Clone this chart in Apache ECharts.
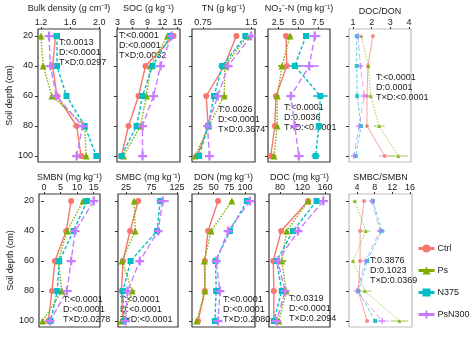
<!DOCTYPE html>
<html><head><meta charset="utf-8">
<script src="https://cdn.jsdelivr.net/npm/echarts@6/dist/echarts.min.js"></script>
<style>html,body{margin:0;padding:0;background:#fff}#c{width:474px;height:339px}</style>
</head><body><div id="c"></div>
<script>
// ---------- data ----------
const depths = [20, 40, 60, 80, 100];
const treatments = ['Ctrl', 'Ps', 'N375', 'PsN300'];

// rows: Ctrl, Ps, N375, PsN300 ; columns: depths
const bulkDensity    = [[1.40,1.36,1.42,1.69,1.75],[1.20,1.23,1.35,1.80,1.82],[1.42,1.42,1.55,1.80,1.96],[1.31,1.33,1.41,1.77,1.69]];
const bulkDensityErr = [[0.02,0.02,0.02,0.05,0.03],[0.02,0.03,0.02,0.02,0.03],[0.02,0.02,0.02,0.02,0.02],[0.04,0.03,0.03,0.03,0.05]];
const soc    = [[14.2,8.6,7.2,5.2,3.8],[13.0,9.6,8.8,7.6,4.2],[13.6,10.0,8.0,6.8,3.8],[13.8,11.6,10.2,8.0,8.0]];
const socErr = [[0.4,0.3,0.3,0.3,0.2],[0.4,0.4,0.4,0.3,0.3],[0.3,0.4,0.4,0.3,0.3],[0.4,0.6,0.6,0.4,0.3]];
const tn    = [[1.27,1.08,0.80,0.83,0.66],[1.44,1.09,1.08,0.84,0.63],[1.41,1.05,0.92,0.83,0.69],[1.50,1.14,0.98,0.82,0.85]];
const tnErr = [[0.02,0.03,0.02,0.02,0.02],[0.03,0.03,0.05,0.03,0.04],[0.03,0.06,0.03,0.03,0.03],[0.03,0.05,0.03,0.03,0.02]];
const no3    = [[3.5,3.6,2.25,2.1,1.6],[4.0,3.0,2.4,2.4,2.0],[6.0,4.6,7.8,7.6,7.2],[7.1,6.4,4.1,4.6,5.1]];
const no3Err = [[0.2,0.3,0.2,0.2,0.2],[0.3,0.5,0.3,0.2,0.3],[0.2,0.8,0.9,0.3,0.5],[0.7,1.2,0.3,0.3,0.6]];
const docDon    = [[2.07,1.80,1.75,1.75,2.70],[1.45,1.82,1.95,2.40,3.43],[1.20,1.20,1.22,1.43,1.15],[1.27,1.40,1.60,1.33,1.05]];
const docDonErr = [[0.05,0.05,0.05,0.05,0.3],[0.05,0.05,0.1,0.3,0.5],[0.05,0.05,0.05,0.1,0.05],[0.05,0.1,0.2,0.1,0.05]];
const smbn    = [[8.2,6.7,3.3,2.4,1.3],[11.8,7.0,4.3,5.4,-0.4],[13.0,8.9,4.6,4.0,2.0],[15.0,9.4,8.2,6.9,1.8]];
const smbnErr = [[0.4,0.4,0.3,0.4,0.3],[0.5,0.5,0.3,0.4,0.3],[0.4,0.4,0.4,0.7,0.3],[0.6,0.6,0.4,1.5,0.4]];
const smbc    = [[49,33,19,16,19],[41,43,17,37,16],[92,86,34,19,21],[97,88,52,28,24]];
const smbcErr = [[3,3,2,2,2],[3,3,2,6,2],[3,3,3,4,2],[12,5,6,4,3]];
const don    = [[57,41,36,36,25],[79,46,35,36,23],[103,76,53,54,52],[108,73,54,60,57]];
const donErr = [[2,3,2,2,2],[3,3,2,2,2],[3,4,3,3,2],[3,3,3,4,3]];
const doc    = [[130,82,68,69,69],[130,92,83,91,78],[145,103,74,83,69],[157,112,76,89,74]];
const docErr = [[3,3,2,2,2],[3,3,8,5,3],[3,4,3,3,2],[8,4,3,3,3]];
const smbcSmbn    = [[5.6,4.7,4.7,4.3,6.3],[3.5,6.0,3.1,5.8,13.6],[7.6,9.6,6.3,4.3,8.1],[7.4,9.2,5.9,4.0,9.7]];
const smbcSmbnErr = [[0.4,0.4,0.4,0.3,0.4],[0.5,1.0,0.4,1.5,2.0],[0.4,0.8,0.4,0.3,0.5],[0.4,0.5,0.4,0.4,1.5]];

// tick labels
const bdTicks = ['1.2','1.6','2.0'];
const socTicks = ['3','6','9','12','15'];
const tnTicks = ['0.75','1.5'];
const no3Ticks = ['2.5','5.0','7.5'];
const docDonTicks = ['1','2','3','4'];
const smbnTicks = ['0','5','10','15'];
const smbcTicks = ['25','75','125'];
const donTicks = ['25','50','75','100'];
const docTicks = ['80','120','160'];
const smbcSmbnTicks = ['4','8','12','16'];
const depthTicks = [20, 40, 60, 80, 100];

const titles = ['Bulk density (g cm\u207B\u00B3)','SOC (g kg\u207B\u00B9)','TN (g kg\u207B\u00B9)','NO\u2083\u207B-N (mg kg\u207B\u00B9)','DOC/DON',
  'SMBN (mg kg\u207B\u00B9)','SMBC (mg kg\u207B\u00B9)','DON (mg kg\u207B\u00B9)','DOC (mg kg\u207B\u00B9)','SMBC/SMBN'];
const stats = [
  ['T:0.0013','D:<0.0001','T\u00D7D:0.0297'],
  ['T:<0.0001','D:<0.0001','T\u00D7D:0.0032'],
  ['T:0.0026','D:<0.0001','T\u00D7D:0.3674'],
  ['T:<0.0001','D:0.0036','T\u00D7D:<0.0001'],
  ['T:<0.0001','D:0.0001','T\u00D7D:<0.0001'],
  ['T:<0.0001','D:<0.0001','T\u00D7D:0.0278'],
  ['T:<0.0001','D:<0.0001','T\u00D7D:<0.0001'],
  ['T:<0.0001','D:<0.0001','T\u00D7D:0.2080'],
  ['T:0.0319','D:<0.0001','T\u00D7D:0.2094'],
  ['T:0.3876','D:0.1023','T\u00D7D:0.0369']
];

// ---------- layout / style ----------
const panels = [
  {vals: bulkDensity, err: bulkDensityErr, ticks: bdTicks, left: 38, top: 29, width: 62, min: 1.159, max: 2.01, stat: [59, 38]},
  {vals: soc, err: socErr, ticks: socTicks, left: 117, top: 29, width: 63, min: 2.9, max: 15.5, stat: [119, 31]},
  {vals: tn, err: tnErr, ticks: tnTicks, left: 192, top: 29, width: 63, min: 0.578, max: 1.56, stat: [218, 105]},
  {vals: no3, err: no3Err, ticks: no3Ticks, left: 268, top: 29, width: 62, min: 1.25, max: 9.0, stat: [284, 103]},
  {vals: docDon, err: docDonErr, ticks: docDonTicks, left: 349, top: 29, width: 62, min: 0.786, max: 4.11, stat: [376, 73], light: true},
  {vals: smbn, err: smbnErr, ticks: smbnTicks, left: 39, top: 194, width: 61, min: -1.5, max: 16.9, stat: [63, 295]},
  {vals: smbc, err: smbcErr, ticks: smbcTicks, left: 118, top: 194, width: 60, min: 9.3, max: 127, stat: [120, 295]},
  {vals: don, err: donErr, ticks: donTicks, left: 192, top: 194, width: 63, min: 15.4, max: 116, stat: [223, 295]},
  {vals: doc, err: docErr, ticks: docTicks, left: 269, top: 194, width: 61, min: 60.4, max: 168.9, stat: [289, 294]},
  {vals: smbcSmbn, err: smbcSmbnErr, ticks: smbcSmbnTicks, left: 349, top: 194, width: 63, min: 2.19, max: 16.45, stat: [370, 256], light: true}
];
const H = 133;
const colors = ['#F8766D', '#7CAE00', '#00BFC4', '#C77CFF'];
const symbols = ['circle', 'triangle', 'rect', 'path://M3,0H5V3H8V5H5V8H3V5H0V3H3Z'];
const dashes = ['solid', [1.5, 1.5], [3.5, 2], [6, 3]];
const FONT = 'Liberation Sans, Arial, sans-serif';
const TXT = '#1a1a1a';

const grid = [], xAxis = [], yAxis = [], series = [], graphic = [];
panels.forEach((p, k) => {
  grid.push({left: p.left, top: p.top, width: p.width, height: H, show: true,
    borderColor: p.light ? '#bdbdbd' : '#3a3a3a', borderWidth: 1.2, backgroundColor: 'transparent'});
  const tv = p.ticks.map(Number);
  xAxis.push({type: 'value', gridIndex: k, position: 'top', min: p.min, max: p.max,
    axisLine: {show: false}, splitLine: {show: false},
    axisTick: {show: true, length: 2, customValues: tv, lineStyle: {color: '#333'}},
    axisLabel: {customValues: tv, margin: 2, fontSize: 9, color: TXT, fontFamily: FONT,
      formatter: v => p.ticks[tv.indexOf(v)] !== undefined ? p.ticks[tv.indexOf(v)] : String(v)}});
  const showY = (k === 0 || k === 5);
  yAxis.push({type: 'value', gridIndex: k, inverse: true, min: 15.33, max: 104,
    axisLine: {show: false}, splitLine: {show: false},
    axisTick: {show: true, length: 3, customValues: depthTicks, lineStyle: {color: '#333'}},
    axisLabel: {show: showY, customValues: depthTicks, margin: 5, fontSize: 9, color: TXT, fontFamily: FONT},
    name: showY ? 'Soil depth (cm)' : '', nameLocation: 'middle', nameGap: 19, nameRotate: 90,
    nameTextStyle: {fontSize: 9, color: TXT, fontFamily: FONT}});
  // error bars
  const errData = [];
  p.vals.forEach((row, s) => row.forEach((v, i) => errData.push([v, depths[i], p.err[s][i], s])));
  series.push({type: 'custom', xAxisIndex: k, yAxisIndex: k, data: errData, z: 1, silent: true,
    renderItem: (params, api) => {
      const x = api.value(0), y = api.value(1), e = api.value(2), s = api.value(3);
      const a = api.coord([x - e, y]), b = api.coord([x + e, y]);
      return {type: 'line', shape: {x1: a[0], y1: a[1], x2: b[0], y2: b[1]},
        style: {stroke: colors[s], lineWidth: p.light ? 1 : 1.6, opacity: p.light ? 0.7 : 1}};
    }});
  p.vals.forEach((row, s) => {
    series.push({type: 'line', name: treatments[s], xAxisIndex: k, yAxisIndex: k, z: 3,
      data: row.map((v, i) => [v, depths[i]]),
      symbol: symbols[s], symbolSize: p.light ? (s === 3 ? 6 : 4) : (s === 3 ? 9 : (s === 1 ? 7 : 6)),
      showSymbol: true, silent: true, animation: false,
      lineStyle: {color: colors[s], width: p.light ? 0.9 : 1.4, type: dashes[s], opacity: p.light ? 0.75 : 1},
      itemStyle: {color: colors[s], opacity: p.light ? 0.8 : 1}});
  });
  graphic.push({type: 'text', left: p.left + p.width / 2, top: (k < 5 ? (k === 4 ? 7 : 4) : 173), 
    style: {text: titles[k], fontSize: 9, fill: TXT, fontFamily: FONT, textAlign: 'center'}});
  graphic.push({type: 'text', left: p.stat[0], top: p.stat[1],
    style: {text: stats[k].join('\n'), fontSize: 9, lineHeight: 9.8, fill: TXT, fontFamily: FONT}});
});

const chart = echarts.init(document.getElementById('c'), null, {renderer: 'canvas'});
chart.setOption({
  animation: false,
  grid, xAxis, yAxis, series,
  graphic: graphic.map(g => { const c = Object.assign({}, g); c.x = g.left; c.y = g.top; delete c.left; delete c.top; return c; }),
  legend: {data: treatments, orient: 'vertical', left: 417, top: 244, padding: 0, itemWidth: 16, itemHeight: 10, itemGap: 13,
    textStyle: {fontSize: 9, color: TXT, fontFamily: FONT, padding: [0, 0, 0, -2]}, lineStyle: {type: 'solid', width: 3, opacity: 1}, itemStyle: {opacity: 1}}
});
</script>
</body></html>
